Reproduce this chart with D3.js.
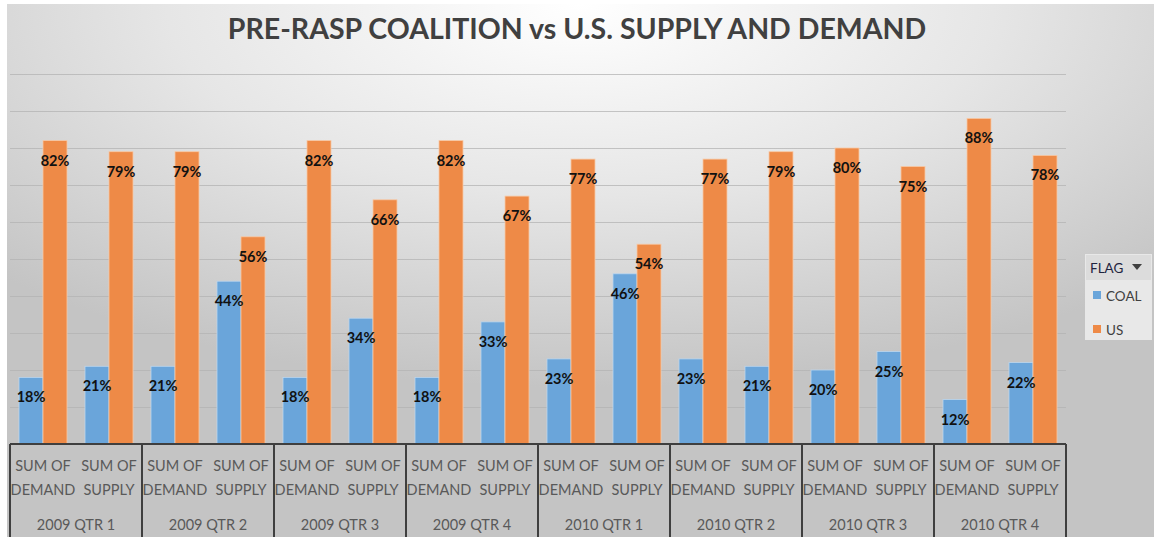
<!DOCTYPE html>
<html>
<head>
<meta charset="utf-8">
<script src="https://cdn.jsdelivr.net/npm/d3@7"></script>
<style>
  body { margin: 0; background: #fff; }
  text { font-family: Lato, "Open Sans", sans-serif; }
</style>
</head>
<body>
<div id="chart"></div>
<script>
// quarters on the outer axis, measures on the inner axis
var quarters = ['2009 QTR 1', '2009 QTR 2', '2009 QTR 3', '2009 QTR 4',
                '2010 QTR 1', '2010 QTR 2', '2010 QTR 3', '2010 QTR 4'];
var measures = ['SUM OF DEMAND', 'SUM OF SUPPLY'];
var series = ['COAL', 'US'];

// share of total, [demand, supply] per quarter
var coalValues = [[18, 21], [21, 44], [18, 34], [18, 33], [23, 46], [23, 21], [20, 25], [12, 22]];
var usValues   = [[82, 79], [79, 56], [82, 66], [82, 67], [77, 54], [77, 79], [80, 75], [88, 78]];

var yTicks = [10, 20, 30, 40, 50, 60, 70, 80, 90, 100];

var svgWidth = 1154;
var svgHeight = 537;

// plot area
var plot = { left: 10, right: 1066, top: 74, bottom: 444 };

var svg = d3.select('#chart').append('svg')
  .attr('width', svgWidth)
  .attr('height', svgHeight);

var defs = svg.append('defs');
var grad = defs.append('radialGradient')
  .attr('id', 'bg')
  .attr('cx', '50%').attr('cy', '0%')
  .attr('r', '72%')
  .attr('gradientUnits', 'objectBoundingBox');
grad.append('stop').attr('offset', '0%').attr('stop-color', '#ffffff');
grad.append('stop').attr('offset', '50%').attr('stop-color', '#e6e6e6');
grad.append('stop').attr('offset', '100%').attr('stop-color', '#c4c4c4');

svg.append('rect')
  .attr('x', 7).attr('y', 4)
  .attr('width', svgWidth - 7).attr('height', svgHeight - 4)
  .attr('fill', 'url(#bg)');

// build flat rows
var rows = [];
quarters.forEach(function(q, qi) {
  measures.forEach(function(m, mi) {
    rows.push({ quarter: q, measure: m, series: 'COAL', value: coalValues[qi][mi] });
    rows.push({ quarter: q, measure: m, series: 'US', value: usValues[qi][mi] });
  });
});

var color = d3.scaleOrdinal()
  .domain(series)
  .range(['#6aa5da', '#ee8a47']);

var x0 = d3.scaleBand()
  .domain(quarters)
  .range([plot.left, plot.right]);

var x1 = d3.scaleBand()
  .domain(measures)
  .range([0, x0.bandwidth()]);

var x2 = d3.scaleBand()
  .domain(series)
  .range([0, x1.bandwidth()])
  .paddingInner(0)
  .paddingOuter(0.375);

var y = d3.scaleLinear()
  .domain([0, 100])
  .range([plot.bottom, plot.top]);

// gridlines
var grid = svg.append('g')
  .attr('transform', 'translate(' + plot.left + ',0)')
  .call(d3.axisLeft(y).tickValues(yTicks).tickSize(-(plot.right - plot.left)).tickFormat(''));
grid.select('.domain').remove();
grid.selectAll('line').attr('stroke', '#b3b3b3').attr('stroke-opacity', 0.75);

// bars
function barX(d) { return x0(d.quarter) + x1(d.measure) + x2(d.series); }

svg.append('g').selectAll('rect')
  .data(rows)
  .enter()
  .append('rect')
  .attr('x', barX)
  .attr('y', d => y(d.value))
  .attr('width', x2.bandwidth())
  .attr('height', d => plot.bottom - y(d.value))
  .attr('fill', d => color(d.series))
  .attr('stroke', d => d.series == 'US' ? '#f7c9a6' : '#bcd6ee')
  .attr('stroke-width', 0.8);

// data labels
svg.append('g').selectAll('text')
  .data(rows)
  .enter()
  .append('text')
  .attr('x', d => barX(d) + x2.bandwidth() / 2)
  .attr('y', d => y(d.value) + 25)
  .attr('text-anchor', 'middle')
  .attr('font-size', 14.5)
  .attr('font-weight', 'bold')
  .attr('fill', '#111')
  .text(d => d.value + '%');

// bottom category box
var axisG = svg.append('g');
axisG.append('line')
  .attr('x1', plot.left).attr('x2', plot.right)
  .attr('y1', plot.bottom).attr('y2', plot.bottom)
  .attr('stroke', '#3f3f3f').attr('stroke-width', 2);

var bounds = quarters.map(q => x0(q)).concat([plot.right]);
axisG.selectAll('line.sep')
  .data(bounds)
  .enter()
  .append('line')
  .attr('class', 'sep')
  .attr('x1', d => d).attr('x2', d => d)
  .attr('y1', plot.bottom).attr('y2', svgHeight)
  .attr('stroke', '#3f3f3f').attr('stroke-width', 2);

var cats = [];
quarters.forEach(q => measures.forEach(m => cats.push({ quarter: q, measure: m })));

var catText = axisG.selectAll('text.cat')
  .data(cats)
  .enter()
  .append('text')
  .attr('class', 'cat')
  .attr('text-anchor', 'middle')
  .attr('font-size', 14.5)
  .attr('fill', '#595959');
catText.append('tspan')
  .attr('x', d => x0(d.quarter) + x1(d.measure) + x1.bandwidth() / 2)
  .attr('y', 471)
  .text('SUM OF');
catText.append('tspan')
  .attr('x', d => x0(d.quarter) + x1(d.measure) + x1.bandwidth() / 2)
  .attr('y', 495)
  .text(d => d.measure.replace('SUM OF ', ''));

axisG.selectAll('text.qtr')
  .data(quarters)
  .enter()
  .append('text')
  .attr('class', 'qtr')
  .attr('x', d => x0(d) + x0.bandwidth() / 2)
  .attr('y', 530)
  .attr('text-anchor', 'middle')
  .attr('font-size', 14.5)
  .attr('fill', '#595959')
  .text(d => d);

// title
svg.append('text')
  .attr('x', 577)
  .attr('y', 39)
  .attr('text-anchor', 'middle')
  .attr('font-size', 28.5)
  .attr('font-weight', 'bold')
  .attr('fill', '#404040')
  .text('PRE-RASP COALITION vs U.S. SUPPLY AND DEMAND');

// legend
var legend = svg.append('g').attr('transform', 'translate(1085,254)');
legend.append('rect')
  .attr('width', 67).attr('height', 86)
  .attr('fill', '#e8e8e8');
legend.append('rect')
  .attr('x', 1).attr('y', 1)
  .attr('width', 65).attr('height', 25)
  .attr('fill', '#dcdcdc');
legend.append('text')
  .attr('x', 5).attr('y', 19)
  .attr('font-size', 13.5)
  .attr('fill', '#1f2440')
  .text('FLAG');
legend.append('path')
  .attr('d', 'M47,10 L57,10 L52,16 Z')
  .attr('fill', '#404040');

var item = legend.selectAll('g.item')
  .data(series)
  .enter()
  .append('g')
  .attr('class', 'item')
  .attr('transform', (d, i) => 'translate(8,' + (43 + i * 34) + ')');
item.append('rect')
  .attr('y', -6)
  .attr('width', 8).attr('height', 8)
  .attr('fill', d => color(d));
item.append('text')
  .attr('x', 13).attr('y', 4)
  .attr('font-size', 13.5)
  .attr('fill', '#404040')
  .text(d => d);
</script>
</body>
</html>
